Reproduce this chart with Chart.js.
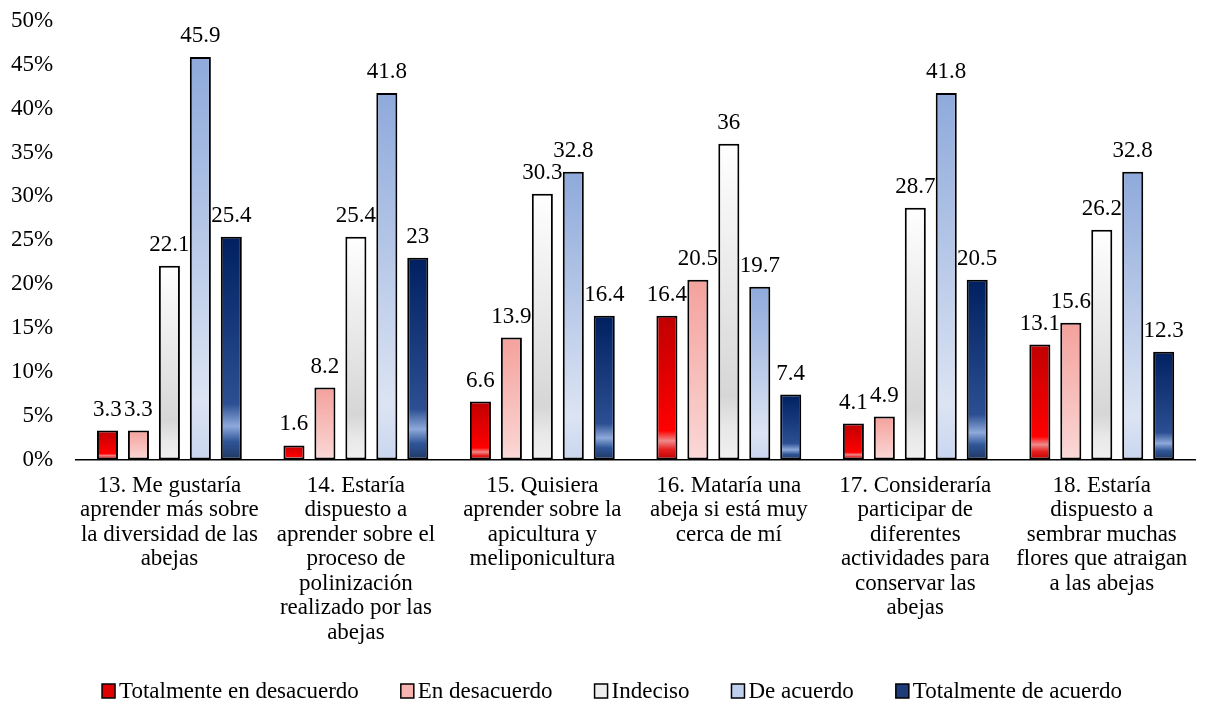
<!DOCTYPE html>
<html><head><meta charset="utf-8">
<script src="https://cdn.jsdelivr.net/npm/chart.js@4.4.1/dist/chart.umd.min.js"></script>
<style>html,body{margin:0;padding:0;background:#fff;}#wrap{width:1208px;height:704px;}</style>
</head><body><div id="wrap"><canvas id="c" width="1208" height="704"></canvas></div>
<script>
const categories = [
  ["13. Me gustaría","aprender más sobre","la diversidad de las","abejas"],
  ["14. Estaría","dispuesto a","aprender sobre el","proceso de","polinización","realizado por las","abejas"],
  ["15. Quisiera","aprender sobre la","apicultura y","meliponicultura"],
  ["16. Mataría una","abeja si está muy","cerca de mí"],
  ["17. Consideraría","participar de","diferentes","actividades para","conservar las","abejas"],
  ["18. Estaría","dispuesto a","sembrar muchas","flores que atraigan","a las abejas"]
];
const seriesNames = ["Totalmente en desacuerdo","En desacuerdo","Indeciso","De acuerdo","Totalmente de acuerdo"];
const totalmenteDesacuerdo = [3.3, 1.6, 6.6, 16.4, 4.1, 13.1];
const enDesacuerdo = [3.3, 8.2, 13.9, 20.5, 4.9, 15.6];
const indeciso = [22.1, 25.4, 30.3, 36, 28.7, 26.2];
const deAcuerdo = [45.9, 41.8, 32.8, 19.7, 41.8, 32.8];
const totalmenteAcuerdo = [25.4, 23, 16.4, 7.4, 20.5, 12.3];
const yTicks = [0,5,10,15,20,25,30,35,40,45,50];

const gradStops = [
  [[0,"#C00000"],[0.8,"#FF0000"],[0.87,"#F08A8A"],[0.93,"#E52020"],[1,"#C00000"]],
  [[0,"#F4A19C"],[0.85,"#F9CFCD"],[1,"#FBDAD8"]],
  [[0,"#FFFFFF"],[0.8,"#D6D6D6"],[0.9,"#E8E8E8"],[1,"#F0F0F0"]],
  [[0,"#8EA9DB"],[0.85,"#DCE4F3"],[1,"#C9D6EF"]],
  [[0,"#002060"],[0.75,"#2B4F92"],[0.85,"#8EA9DB"],[0.92,"#2F5597"],[1,"#1F3864"]]
];
const legendColors = ["#E00000","#F6B3AF","#EEEEEE","#BFD0EE","#1F3C7A"];

function gradFor(i){
  return function(ctx){
    const chart = ctx.chart;
    const y = chart.scales && chart.scales.y;
    if(!y || ctx.raw === undefined || ctx.type !== 'data') return legendColors[i];
    const top = y.getPixelForValue(ctx.raw);
    const bottom = y.getPixelForValue(0);
    if(!isFinite(top) || !isFinite(bottom) || bottom - top < 1) return legendColors[i];
    const g = chart.ctx.createLinearGradient(0, top, 0, bottom);
    gradStops[i].forEach(s => g.addColorStop(s[0], s[1]));
    return g;
  };
}

const allData = [totalmenteDesacuerdo, enDesacuerdo, indeciso, deAcuerdo, totalmenteAcuerdo];
const FONT = "'Liberation Serif', 'Times New Roman', serif";
const FS = 23;

const valueLabels = {
  id: 'valueLabels',
  afterDatasetsDraw(chart){
    const c = chart.ctx;
    c.save();
    c.font = FS + "px " + FONT;
    c.fillStyle = "#000";
    c.textAlign = "center";
    c.textBaseline = "alphabetic";
    chart.data.datasets.forEach((ds, di) => {
      const meta = chart.getDatasetMeta(di);
      meta.data.forEach((bar, i) => {
        c.fillText(String(ds.data[i]), bar.x, bar.y - 15);
      });
    });
    c.restore();
  }
};

const customLegend = {
  id: 'customLegend',
  afterDraw(chart){
    const c = chart.ctx;
    c.save();
    c.font = FS + "px " + FONT;
    const box = 13, gapText = 4, gapItem = 42;
    const widths = seriesNames.map(n => c.measureText(n).width);
    const total = widths.reduce((a, w) => a + box + gapText + w, 0) + gapItem * (seriesNames.length - 1);
    let x = (chart.width - total) / 2 + 8;
    const cy = 691;
    c.textBaseline = "middle";
    c.textAlign = "left";
    seriesNames.forEach((n, i) => {
      c.fillStyle = legendColors[i];
      c.fillRect(x, cy - 7, box, 14);
      c.strokeStyle = "#000";
      c.lineWidth = 1.5;
      c.strokeRect(x, cy - 7, box, 14);
      c.fillStyle = "#000";
      c.fillText(n, x + box + gapText, cy + 1);
      x += box + gapText + widths[i] + gapItem;
    });
    c.restore();
  }
};

new Chart(document.getElementById('c'), {
  type: 'bar',
  data: {
    labels: categories,
    datasets: allData.map((d, i) => ({
      label: seriesNames[i],
      data: d,
      backgroundColor: gradFor(i),
      borderColor: "#000",
      borderWidth: 2,
      borderSkipped: false,
      categoryPercentage: 0.83,
      barPercentage: 0.68
    }))
  },
  options: {
    responsive: false,
    animation: false,
    layout: { padding: { left: -12, right: 13, top: 21, bottom: 45 } },
    scales: {
      x: {
        grid: { display: false, drawTicks: false },
        border: { color: "#000", width: 1.5 },
        ticks: { color: "#000", font: { family: FONT, size: FS, lineHeight: "24.5px" }, maxRotation: 0, autoSkip: false, padding: 14 }
      },
      y: {
        min: 0, max: 50,
        afterBuildTicks(axis){ axis.ticks = yTicks.map(v => ({value: v})); },
        afterFit(axis){ axis.paddingTop = 0; axis.paddingBottom = 0; },
        grid: { display: false, drawTicks: false },
        border: { display: false },
        ticks: { color: "#000", font: { family: FONT, size: FS }, padding: 23, callback: v => v + "%" }
      }
    },
    plugins: {
      tooltip: { enabled: false },
      legend: { display: false }
    }
  },
  plugins: [valueLabels, customLegend]
});
</script>
</body></html>
